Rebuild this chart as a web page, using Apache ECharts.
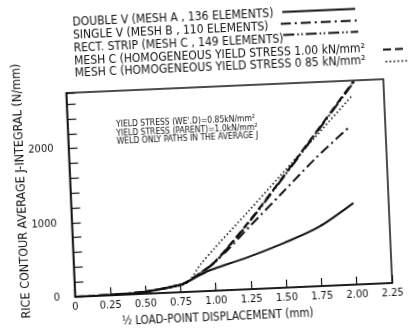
<!DOCTYPE html>
<html>
<head>
<meta charset="utf-8">
<script src="https://cdn.jsdelivr.net/npm/echarts@6/dist/echarts.min.js"></script>
<style>
  html, body { margin: 0; padding: 0; background: #fff; overflow: hidden; }
  #chart { width: 412px; height: 336px; transform: rotate(-2.5deg); transform-origin: 50% 50%; }
</style>
</head>
<body>
<div id="chart"></div>
<script>
// J-integral vs half load-point displacement
const seriesNames = [
  "DOUBLE V (MESH A , 136 ELEMENTS)",
  "SINGLE V (MESH B , 110 ELEMENTS)",
  "RECT. STRIP (MESH C , 149 ELEMENTS)",
  "MESH C (HOMOGENEOUS YIELD STRESS 1.00 kN/mm\u00b2",
  "MESH C (HOMOGENEOUS YIELD STRESS 0 85 kN/mm\u00b2",
];

const doubleV = [[0, 0], [0.25, 5], [0.5, 28], [0.75, 100], [0.85, 180], [0.95, 270], [1.0, 300], [1.25, 440], [1.5, 605], [1.75, 800], [2.0, 1100]];
const singleV = [[0, 0], [0.25, 5], [0.5, 28], [0.75, 100], [0.8, 137], [0.9, 250], [1.0, 385], [1.1, 550], [1.25, 830], [1.5, 1280], [1.75, 1730], [2.0, 2135]];
const rectStrip = [[0, 0], [0.25, 5], [0.5, 28], [0.75, 100], [0.8, 135], [0.9, 250], [1.0, 382], [1.25, 890], [1.5, 1460], [1.75, 2045], [2.04, 2730]];
const meshC100 = [[0, 0], [0.25, 5], [0.5, 28], [0.75, 100], [0.8, 137], [0.9, 255], [1.0, 387], [1.25, 900], [1.5, 1470], [1.75, 2057], [2.04, 2742]];
const meshC085 = [[0, 0], [0.25, 5], [0.5, 28], [0.7, 75], [0.8, 125], [0.9, 364], [1.0, 567], [1.25, 1042], [1.5, 1528], [1.75, 2011], [2.03, 2558]];

const xTickLabels = ["0", "0.25", "0.50", "0.75", "1.00", "1.25", "1.50", "1.75", "2.00", "2.25"];
const yTickLabels = ["0", "1000", "2000"];

const xTitle = "\u00bd LOAD-POINT DISPLACEMENT (mm)";
const yTitle = "RICE CONTOUR AVERAGE J-INTEGRAL (N/mm)";

const noteLines = [
  "YIELD STRESS (WE'.D)=0.85kN/mm\u00b2",
  "YIELD STRESS (PARENT)=1.0kN/mm\u00b2",
  "WELD ONLY PATHS IN THE AVERAGE J",
];

const FONT = "'DejaVu Sans Condensed', 'DejaVu Sans', sans-serif";
const INK = "#111";

const dashes = [null, [10, 4, 2, 4], [11, 3, 1.5, 2.5, 1.5, 3], [8, 4], [1.5, 2.5]];
const widths = [2, 2, 2.2, 2.2, 1.6];
const seriesData = [doubleV, singleV, rectStrip, meshC100, meshC085];

const chartInstance = echarts.init(document.getElementById("chart"));

// legend: text block on the left, line samples off to the right
const legendText = seriesNames.map((name, i) => ({
  type: "text",
  style: {
    text: name, x: 79, y: 17.3 + i * 12.75,
    font: "12px " + FONT, fill: INK, verticalAlign: "middle",
  },
}));
const sampleSpans = [[289, 362, 15.6], [287, 365, 27.2], [289, 364, 38.5], [388, 418, 57.5], [390, 418, 69.6]];
const legendLines = sampleSpans.map((s, i) => ({
  type: "line",
  shape: { x1: s[0], y1: s[2], x2: s[1], y2: s[2] },
  style: { stroke: INK, lineWidth: widths[i], lineDash: dashes[i] || null },
}));
const notes = noteLines.map((t, i) => ({
  type: "text",
  style: {
    text: t, x: 118, y: 121 + i * 8.5,
    font: "8.5px " + FONT, fill: INK, verticalAlign: "middle",
  },
}));
const yName = {
  type: "text",
  x: 21, y: 183, rotation: Math.PI / 2,
  style: {
    text: yTitle, font: "12.5px " + FONT, fill: INK,
    align: "center", verticalAlign: "middle",
  },
};

const option = {
  backgroundColor: "#fff",
  animation: false,
  grid: {
    left: 69.5, right: 25, top: 87, bottom: 45,
    show: true, borderColor: INK, borderWidth: 1.5,
  },
  xAxis: {
    type: "value",
    min: 0, max: 2.25, interval: 0.25,
    name: xTitle,
    nameLocation: "middle", nameGap: 19,
    nameTextStyle: { fontFamily: FONT, fontSize: 11.5, color: INK, padding: [0, 34, 0, 0] },
    axisLine: { lineStyle: { color: INK, width: 1.5 } },
    axisTick: { inside: true, length: 8, lineStyle: { color: INK, width: 1.2 } },
    axisLabel: {
      fontFamily: FONT, fontSize: 11, color: INK, margin: 5,
      formatter: (v) => xTickLabels[Math.round(v / 0.25)] || "",
    },
    splitLine: { show: false },
  },
  yAxis: {
    type: "value",
    min: 0, max: 2750, interval: 200,
    axisLine: { lineStyle: { color: INK, width: 1.5 } },
    axisTick: { inside: true, length: 9, lineStyle: { color: INK, width: 1.2 } },
    axisLabel: {
      fontFamily: FONT, fontSize: 11, color: INK, margin: 15,
      formatter: (v) => (yTickLabels.indexOf(String(v)) >= 0 ? String(v) : ""),
    },
    splitLine: { show: false },
  },
  series: seriesData.map((d, i) => ({
    name: seriesNames[i],
    type: "line",
    data: d,
    smooth: 0.3,
    symbol: "none",
    lineStyle: { color: INK, width: widths[i], type: dashes[i] || "solid", cap: "butt" },
  })),
  graphic: [...legendText, ...legendLines, ...notes, yName],
};

chartInstance.setOption(option);
</script>
</body>
</html>
